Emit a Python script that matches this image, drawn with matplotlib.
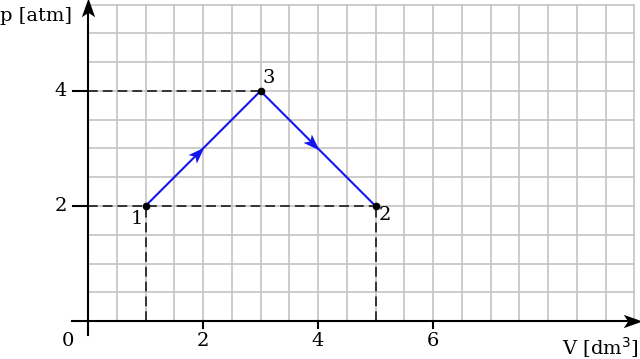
import numpy as np
import matplotlib.pyplot as plt
from matplotlib.path import Path

# process 1 -> 3 -> 2
V = [1, 3, 5]
p = [2, 4, 2]
labels = ['1', '3', '2']
xticks = [2, 4, 6]
yticks = [2, 4]

plt.rcParams['font.family'] = 'DejaVu Serif'

fig = plt.figure(figsize=(6.4, 3.59), dpi=100)
ax = fig.add_axes([0, 0, 1, 1])
ax.set_xlim(-88/57.5, (640-88)/57.5)
ax.set_ylim((321-359)/57.5, 321/57.5)
ax.axis('off')

def stealth(angle):
    # stealth-like arrow head as a marker path, pointing along angle
    pts = np.array([[1, 0], [-0.7, 0.6], [-0.3, 0], [-0.7, -0.6], [1, 0]])
    c, s = np.cos(angle), np.sin(angle)
    pts = pts @ np.array([[c, s], [-s, c]])
    return Path(pts, [1, 2, 2, 2, 79])

# grid, 0.5 spacing
g = '#c4c4c4'
for x in np.arange(0.5, 9.51, 0.5):
    ax.plot([x, x], [0, 5.5], color=g, lw=1.2, zorder=1)
for y in np.arange(0.5, 5.51, 0.5):
    ax.plot([0, 9.5], [y, y], color=g, lw=1.2, zorder=1)

# axes with arrows
ax.plot([-0.27, 9.45], [0, 0], color='k', lw=1.5, zorder=5)
ax.plot([0, 0], [-0.25, 5.45], color='k', lw=1.5, zorder=5)
ax.plot(9.45, 0, marker=stealth(0), ms=16, color='k', mew=0, zorder=5)
ax.plot(0, 5.43, marker=stealth(np.pi/2), ms=16, color='k', mew=0, zorder=5)

# ticks
for x in xticks:
    ax.plot([x, x], [0, -0.12], color='k', lw=1.5, zorder=5)
    ax.text(x, -0.34, str(x), ha='center', va='center', fontsize=14)
for y in yticks:
    ax.plot([-0.26, 0], [y, y], color='k', lw=1.5, zorder=5)
    ax.text(-0.47, y, str(y), ha='center', va='center', fontsize=14)
ax.text(-0.35, -0.34, '0', ha='center', va='center', fontsize=14)

# dashed helper lines
dash = dict(color='#333333', lw=1.4, ls=(0, (5, 2.6)), zorder=3)
ax.plot([0, V[2]], [p[0], p[2]], **dash)
ax.plot([0, V[1]], [p[1], p[1]], **dash)
ax.plot([V[0], V[0]], [0, p[0]], **dash)
ax.plot([V[2], V[2]], [0, p[2]], **dash)

# process path, arrow tips at the midpoints
blue = '#1414f0'
ax.plot(V, p, color=blue, lw=1.5, zorder=4)
for i in range(len(V)-1):
    xm = (V[i] + V[i+1]) / 2
    ym = (p[i] + p[i+1]) / 2
    ang = np.arctan2(p[i+1] - p[i], V[i+1] - V[i])
    back = 0.14
    ax.plot(xm - back*np.cos(ang), ym - back*np.sin(ang), marker=stealth(ang),
            ms=13, color=blue, mew=0, zorder=4)
ax.plot(V, p, 'o', color='k', ms=4.5, zorder=6)

ax.text(V[0] - 0.15, p[0] - 0.23, labels[0], ha='center', va='center', fontsize=14)
ax.text(V[1] + 0.15, p[1] + 0.22, labels[1], ha='center', va='center', fontsize=14)
ax.text(V[2] + 0.16, p[2] - 0.15, labels[2], ha='center', va='center', fontsize=14)

ax.text(-1.53, 5.3, 'p [atm]', ha='left', va='center', fontsize=14)
ax.text(9.57, -0.46, 'V [dm$^3$]', ha='right', va='center', fontsize=14)

fig.savefig('out.png', dpi=100)
